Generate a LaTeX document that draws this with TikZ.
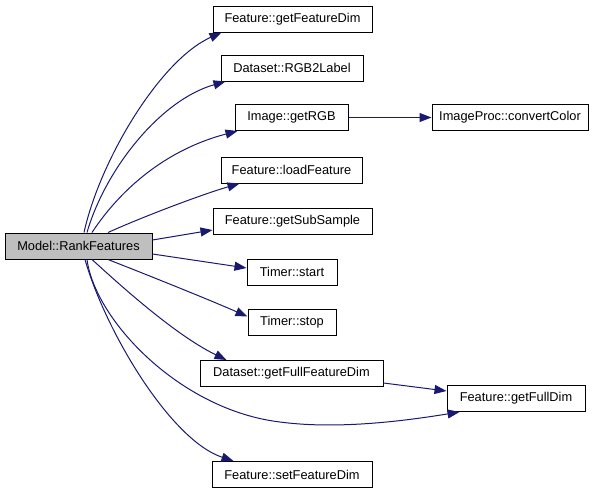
\documentclass[tikz,border=0pt]{standalone}
\usepackage{fontspec}
\setmainfont{Liberation Sans}
\usetikzlibrary{arrows.meta,calc}
\definecolor{edgeblue}{HTML}{191970}
\definecolor{rootgray}{HTML}{BFBFBF}
\begin{document}
\begin{tikzpicture}[x=1pt,y=-1pt,
  box/.style={draw=black, fill=white, line width=1pt, inner sep=0pt, minimum height=26pt, font=\fontsize{12.8}{15}\selectfont},
  rootbox/.style={box, fill=rootgray},
  edge/.style={draw=edgeblue, line width=1pt, -{Triangle[length=12pt,width=9pt]}}]
\useasboundingbox (0,0) rectangle (605,493);
% nodes
\node[rootbox, minimum width=147pt] (m) at (78.5,246) {Model::RankFeatures};
\node[box, minimum width=159pt] (gfd) at (292.5,19) {Feature::getFeatureDim};
\node[box, minimum width=142pt] (rgb) at (292,68) {Dataset::RGB2Label};
\node[box, minimum width=113pt] (grgb) at (291.5,117.5) {Image::getRGB};
\node[box, minimum width=156pt] (cc) at (510,117.5) {ImageProc::convertColor};
\node[box, minimum width=141pt] (lf) at (291.5,170) {Feature::loadFeature};
\node[box, minimum width=159pt] (gss) at (292.5,221) {Feature::getSubSample};
\node[box, minimum width=90pt] (ts) at (292,272) {Timer::start};
\node[box, minimum width=88pt] (tst) at (292,322.5) {Timer::stop};
\node[box, minimum width=183pt] (gffd) at (291.5,373.5) {Dataset::getFullFeatureDim};
\node[box, minimum width=138pt] (gfdim) at (516,398.5) {Feature::getFullDim};
\node[box, minimum width=160pt] (sfd) at (292,474.5) {Feature::setFeatureDim};
% edges from root (top)
\draw[edge] ($(m.north)+(5.5,0)$) .. controls (100,160) and (160,60) .. ($(gfd.south west)+(9,0)$);
\draw[edge] ($(m.north)+(8.5,0)$) .. controls (105,170) and (160,100) .. ($(rgb.south west)+(5,0)$);
\draw[edge] ($(m.north)+(13.5,0)$) .. controls (120,190) and (165,150) .. ($(grgb.south west)+(3,0)$);
\draw[edge] ($(m.north)+(29.5,0)$) .. controls (140,218) and (200,195) .. ($(lf.south west)+(19,0)$);
% right side
\draw[edge] ($(m.east)+(0,-6)$) -- ($(gss.west)+(0,9)$);
\draw[edge] ($(m.east)+(0,8)$) -- ($(ts.west)+(0,-4)$);
% bottom
\draw[edge] ($(m.south)+(29.5,0)$) .. controls (150,276) and (205,298) .. ($(tst.west)+(0,-6)$);
\draw[edge] ($(m.south)+(13.5,0)$) .. controls (120,285) and (175,335) .. ($(gffd.north west)+(27,0)$);
\draw[edge] ($(m.south)+(8.5,0)$) .. controls (95,320) and (180,410) .. (280,422) .. controls (340,430) and (410,420) .. ($(gfdim.south west)+(13,0)$);
\draw[edge] ($(m.south)+(6.5,0)$) .. controls (105,330) and (170,440) .. ($(sfd.north west)+(22,0)$);
% second level
\draw[edge] (grgb.east) -- (cc.west);
\draw[edge] ($(gffd.east)+(0,9.5)$) -- ($(gfdim.west)+(0,-7.5)$);
\end{tikzpicture}
\end{document}
